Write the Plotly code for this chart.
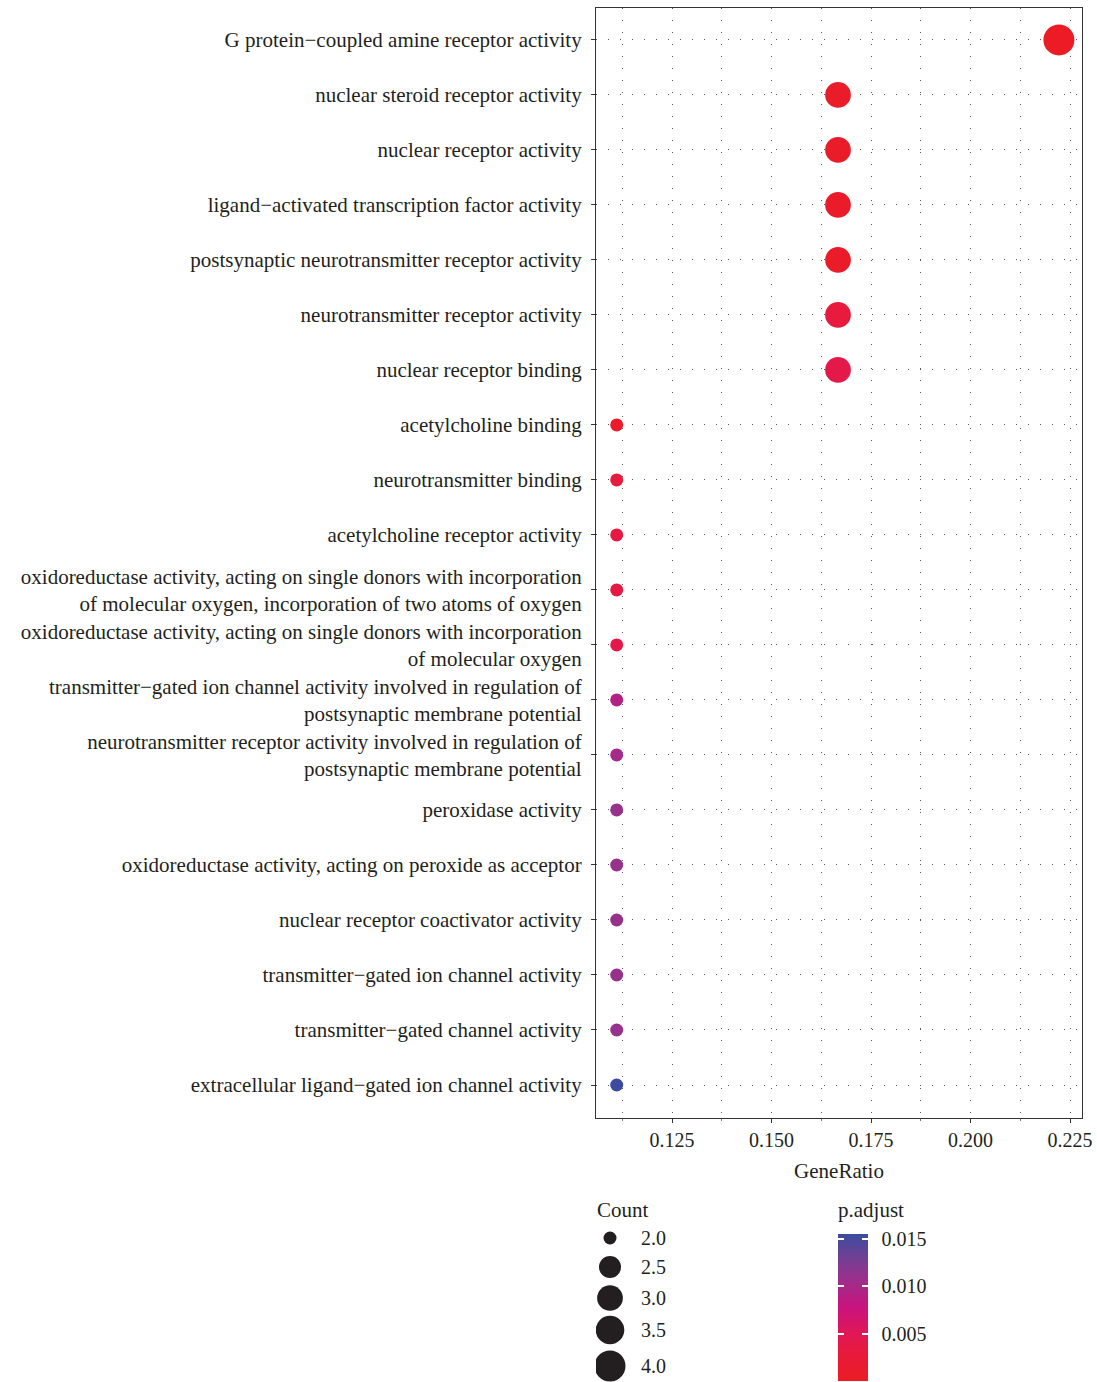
import plotly.graph_objects as go

# GO molecular-function enrichment results
terms = [
    "G protein\u2212coupled amine receptor activity",
    "nuclear steroid receptor activity",
    "nuclear receptor activity",
    "ligand\u2212activated transcription factor activity",
    "postsynaptic neurotransmitter receptor activity",
    "neurotransmitter receptor activity",
    "nuclear receptor binding",
    "acetylcholine binding",
    "neurotransmitter binding",
    "acetylcholine receptor activity",
    "oxidoreductase activity, acting on single donors with incorporation<br>of molecular oxygen, incorporation of two atoms of oxygen",
    "oxidoreductase activity, acting on single donors with incorporation<br>of molecular oxygen",
    "transmitter\u2212gated ion channel activity involved in regulation of<br>postsynaptic membrane potential",
    "neurotransmitter receptor activity involved in regulation of<br>postsynaptic membrane potential",
    "peroxidase activity",
    "oxidoreductase activity, acting on peroxide as acceptor",
    "nuclear receptor coactivator activity",
    "transmitter\u2212gated ion channel activity",
    "transmitter\u2212gated channel activity",
    "extracellular ligand\u2212gated ion channel activity",
]
gene_ratio = [0.2222, 0.1667, 0.1667, 0.1667, 0.1667, 0.1667, 0.1667,
              0.1111, 0.1111, 0.1111, 0.1111, 0.1111, 0.1111, 0.1111,
              0.1111, 0.1111, 0.1111, 0.1111, 0.1111, 0.1111]
count = [4, 3, 3, 3, 3, 3, 3, 2, 2, 2, 2, 2, 2, 2, 2, 2, 2, 2, 2, 2]
p_adjust = [0.0003, 0.0008, 0.0008, 0.0008, 0.0008, 0.0030, 0.0040,
            0.0010, 0.0030, 0.0035, 0.0037, 0.0040, 0.0092, 0.0102,
            0.0110, 0.0110, 0.0110, 0.0110, 0.0110, 0.0155]

x_ticks = [0.125, 0.150, 0.175, 0.200, 0.225]
x_tick_labels = ["0.125", "0.150", "0.175", "0.200", "0.225"]
count_breaks = [2.0, 2.5, 3.0, 3.5, 4.0]
count_break_labels = ["2.0", "2.5", "3.0", "3.5", "4.0"]
padj_ticks = [0.005, 0.010, 0.015]
padj_tick_labels = ["0.005", "0.010", "0.015"]

# ---- styling ----
FONT = "Liberation Serif"
TXT = "#231f20"
FS = 20
FS_Y = 21
W, H = 1097, 1382
M_L, M_R, M_T, M_B = 596, 15, 8, 0
PLOT_BOTTOM_PX = 1118
PAPER_H = H - M_T - M_B
PAPER_W = W - M_L - M_R

def fy(px):
    """figure pixel row -> paper fraction"""
    return (H - M_B - px) / PAPER_H

def fx(px):
    return (px - M_L) / PAPER_W

# size scale (area-style): diameter grows with sqrt of rescaled count
D_MIN, D_MAX = 13, 31
C_MIN, C_MAX = min(count_breaks), max(count_breaks)

def size_of(c):
    return D_MIN + (D_MAX - D_MIN) * ((c - C_MIN) / (C_MAX - C_MIN)) ** 0.5

colorscale = [
    [0.00, "#EC1C24"],
    [0.20, "#E81A3E"],
    [0.33, "#E01758"],
    [0.50, "#C8137E"],
    [0.66, "#A42B8A"],
    [0.83, "#743F92"],
    [1.00, "#3B4CA0"],
]
P_MIN, P_MAX = 0.00005, 0.0155

# colour bar geometry
CB_LEFT_PX, CB_BOTTOM_PX, CB_LEN, CB_THICK = 838, 1381, 147, 30
TICK_LEN = 6

ypos = list(range(len(terms)))

fig = go.Figure()
fig.add_trace(go.Scatter(
    x=gene_ratio, y=ypos, mode="markers",
    marker=dict(
        size=[size_of(c) for c in count],
        color=p_adjust, colorscale=colorscale, cmin=P_MIN, cmax=P_MAX,
        line=dict(width=0), opacity=1,
        showscale=True,
        colorbar=dict(
            x=fx(CB_LEFT_PX), xanchor="left", y=fy(CB_BOTTOM_PX), yanchor="bottom",
            len=CB_LEN, lenmode="pixels", thickness=CB_THICK, thicknessmode="pixels",
            xpad=0, ypad=0, outlinewidth=0,
            tickvals=padj_ticks,
            ticktext=["\u00a0\u2009" + t for t in padj_tick_labels],
            ticks="inside", ticklen=TICK_LEN, tickcolor="white", tickwidth=1.5,
            tickfont=dict(family=FONT, size=FS, color=TXT),
        ),
    ),
    showlegend=False, hoverinfo="skip",
))

# transparent overlay bar that adds the white tick marks on the left edge
fig.add_trace(go.Scatter(
    x=[None], y=[None], mode="markers",
    marker=dict(
        color=[P_MIN], cmin=P_MIN, cmax=P_MAX,
        colorscale=[[0, "rgba(0,0,0,0)"], [1, "rgba(0,0,0,0)"]],
        showscale=True,
        colorbar=dict(
            x=fx(CB_LEFT_PX), xanchor="left", y=fy(CB_BOTTOM_PX), yanchor="bottom",
            len=CB_LEN, lenmode="pixels", thickness=TICK_LEN, thicknessmode="pixels",
            xpad=0, ypad=0, outlinewidth=0, bgcolor="rgba(0,0,0,0)",
            tickvals=padj_ticks, showticklabels=False,
            ticks="inside", ticklen=TICK_LEN, tickcolor="white", tickwidth=1.5,
        ),
    ),
    showlegend=False, hoverinfo="skip",
))

# Count size key, drawn on a hidden pixel-scaled axis pair below the plot
key_rows_px = [1238, 1267, 1298, 1330, 1366]
key_x_px = 610
key_top_px = 1222
fig.add_trace(go.Scatter(
    x=[key_x_px] * len(count_breaks), y=key_rows_px, mode="markers",
    marker=dict(size=[size_of(c) for c in count_breaks], color=TXT,
                opacity=1, line=dict(width=0)),
    xaxis="x2", yaxis="y2", showlegend=False, hoverinfo="skip",
))
for lab, py in zip(count_break_labels, key_rows_px):
    fig.add_annotation(x=639, y=py, xref="x2", yref="y2", text=lab, showarrow=False,
                       xanchor="left", yanchor="middle",
                       font=dict(family=FONT, size=FS, color=TXT))

fig.add_annotation(x=fx(595), y=fy(1210), xref="paper", yref="paper", text="Count",
                   showarrow=False, xanchor="left", yanchor="middle",
                   font=dict(family=FONT, size=FS + 1, color=TXT))
fig.add_annotation(x=fx(836), y=fy(1210), xref="paper", yref="paper", text="p.adjust",
                   showarrow=False, xanchor="left", yanchor="middle",
                   font=dict(family=FONT, size=FS + 1, color=TXT))

grid = dict(showgrid=True, gridcolor="#58595b", gridwidth=1, griddash="1px,11px")
fig.update_layout(
    width=W, height=H,
    margin=dict(l=M_L, r=M_R, t=M_T, b=M_B),
    paper_bgcolor="white", plot_bgcolor="white",
    font=dict(family=FONT, size=FS, color=TXT),
    xaxis=dict(
        domain=[0, 1], range=[0.1059, 0.2280],
        tickvals=x_ticks, ticktext=x_tick_labels,
        ticks="outside", ticklen=4, tickcolor="#333", tickwidth=1,
        tickfont=dict(family=FONT, size=FS, color=TXT),
        showline=True, linecolor="#333", linewidth=1.3, mirror=True,
        zeroline=False,
        minor=dict(tickvals=[0.1125, 0.1375, 0.1625, 0.1875, 0.2125],
                   showgrid=True, gridcolor="#58595b", gridwidth=1, griddash="1px,11px",
                   ticks="outside", ticklen=2, tickcolor="#777"),
        title=dict(text="GeneRatio", font=dict(family=FONT, size=FS + 1, color=TXT), standoff=13),
        **grid,
    ),
    yaxis=dict(
        domain=[fy(PLOT_BOTTOM_PX), 1], range=[len(terms) - 0.4, -0.58],
        tickvals=ypos, ticktext=terms,
        ticks="outside", ticklen=4, tickcolor="#333", tickwidth=1,
        ticklabelstandoff=5,
        tickfont=dict(family=FONT, size=FS_Y, color=TXT),
        showline=True, linecolor="#333", linewidth=1.3, mirror=True,
        zeroline=False,
        **grid,
    ),
    xaxis2=dict(domain=[0, 0.4], range=[M_L, M_L + 0.4 * PAPER_W], visible=False,
                anchor="y2", fixedrange=True),
    yaxis2=dict(domain=[0, fy(key_top_px)], range=[H - M_B, key_top_px], visible=False,
                anchor="x2", fixedrange=True),
)

fig.write_html("out.html")
